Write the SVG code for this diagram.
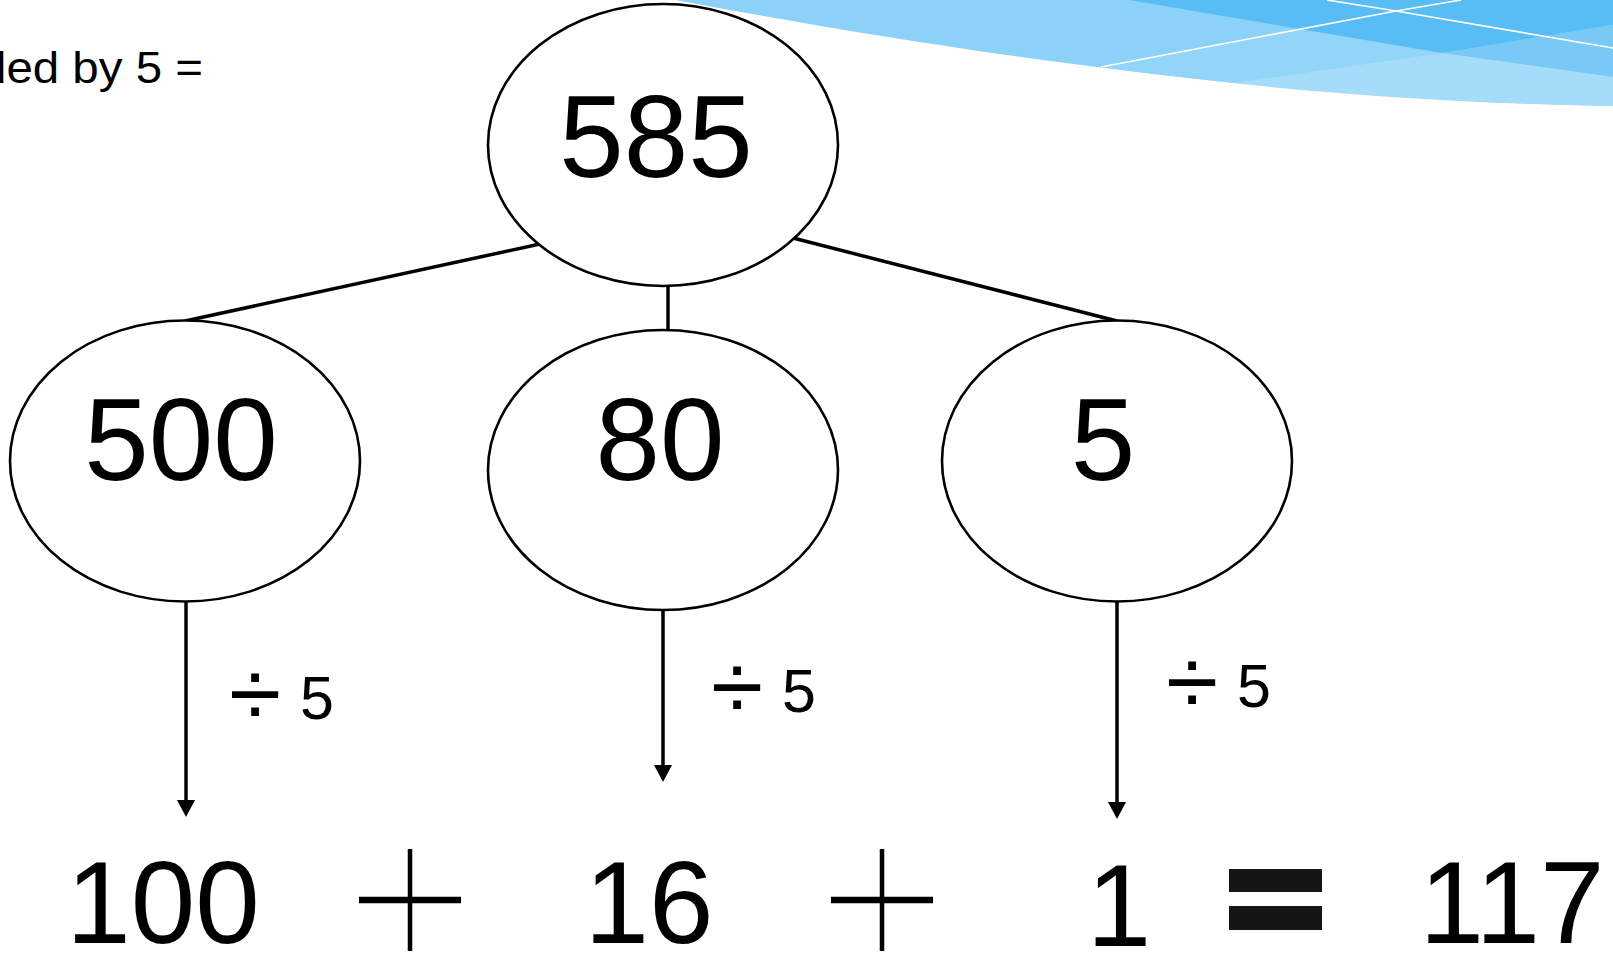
<svg xmlns="http://www.w3.org/2000/svg" width="1613" height="958" viewBox="0 0 1613 958">
<defs>
<style>
.num{font-family:"Liberation Sans",Arial,sans-serif;font-size:116px;fill:#000;text-anchor:middle}
.lbl{font-family:"Liberation Sans",Arial,sans-serif;font-size:61px;fill:#000}
.dv{font-family:"Liberation Sans",Arial,sans-serif;font-size:95px;fill:#000;text-anchor:middle}
.node{fill:#fff;stroke:#000;stroke-width:2.6}
.edge{stroke:#000;stroke-width:3.5;fill:none}
.wl{stroke:#fff;stroke-width:1.6;fill:none}
</style>
<marker id="ah" markerUnits="userSpaceOnUse" markerWidth="18" markerHeight="18" refX="0" refY="9" orient="auto">
<path d="M0,0 L17,9 L0,18 Z" fill="#000"/>
</marker>
</defs>
<rect width="1613" height="958" fill="#fff"/>
<g id="decoration">
<path d="M676,0 C900,42 1250,100 1613,106 L1613,0 Z" fill="#8BD1F8"/>
<path d="M1101,67 L1396,11 L1442,53 L1233,83 C1185,78 1140,72 1101,67 Z" fill="#93D5F9"/>
<path d="M1129,0 L1442,53 L1613,25 L1613,0 Z" fill="#58BDF4"/>
<path d="M1442,53 L1613,25 L1613,77 Z" fill="#79C9F6"/>
<path d="M1233,83 L1442,53 L1613,77 L1613,106 C1480,104 1350,96 1233,83 Z" fill="#A5DCF9"/>
<path class="wl" d="M1101,67 L1396,11 L1461,0"/>
<path class="wl" d="M1327,0 L1396,11 L1613,48"/>
</g>
<g id="caption">
<text x="-20" y="83" font-family="Liberation Sans, Arial, sans-serif" font-size="44" textLength="223" lengthAdjust="spacingAndGlyphs">ded by 5 =</text>
</g>
<g id="connectors">
<line class="edge" x1="540" y1="244" x2="185" y2="321"/>
<line class="edge" x1="668" y1="286" x2="668" y2="330"/>
<line class="edge" x1="793" y1="238" x2="1117" y2="321"/>
<line class="edge" x1="186" y1="602" x2="186" y2="800" marker-end="url(#ah)"/>
<line class="edge" x1="663" y1="608" x2="663" y2="765" marker-end="url(#ah)"/>
<line class="edge" x1="1117" y1="602" x2="1117" y2="802" marker-end="url(#ah)"/>
</g>
<g id="node-585">
<ellipse class="node" cx="663" cy="145" rx="175" ry="141"/>
<text class="num" x="656" y="177">585</text>
</g>
<g id="node-500">
<ellipse class="node" cx="185" cy="461" rx="175" ry="140.5"/>
<text class="num" x="181" y="480">500</text>
</g>
<g id="node-80">
<ellipse class="node" cx="663" cy="470" rx="175" ry="140"/>
<text class="num" x="660" y="480">80</text>
</g>
<g id="node-5">
<ellipse class="node" cx="1117" cy="461" rx="175" ry="140.5"/>
<text class="num" x="1103" y="480">5</text>
</g>
<g id="labels">
<text class="dv" x="255" y="726">÷</text><text class="lbl" x="300" y="719">5</text>
<text class="dv" x="737" y="719">÷</text><text class="lbl" x="782" y="712">5</text>
<text class="dv" x="1192" y="714">÷</text><text class="lbl" x="1237" y="707">5</text>
</g>
<g id="equation">
<text class="num" x="163" y="943">100</text>
<g id="plus1" stroke="#000">
<line x1="410" y1="849" x2="410" y2="951" stroke-width="4.5"/>
<line x1="359" y1="900" x2="461" y2="900" stroke-width="6.5"/>
</g>
<text class="num" x="649" y="943">16</text>
<g id="plus2" stroke="#000">
<line x1="882" y1="849" x2="882" y2="951" stroke-width="4.5"/>
<line x1="831" y1="900" x2="933" y2="900" stroke-width="6.5"/>
</g>
<text class="num" x="1119" y="946">1</text>
<g id="equals" fill="#151515">
<rect x="1229" y="869" width="93" height="23"/>
<rect x="1229" y="906" width="93" height="24"/>
</g>
<text class="num" x="1512" y="943">117</text>
</g>
</svg>
